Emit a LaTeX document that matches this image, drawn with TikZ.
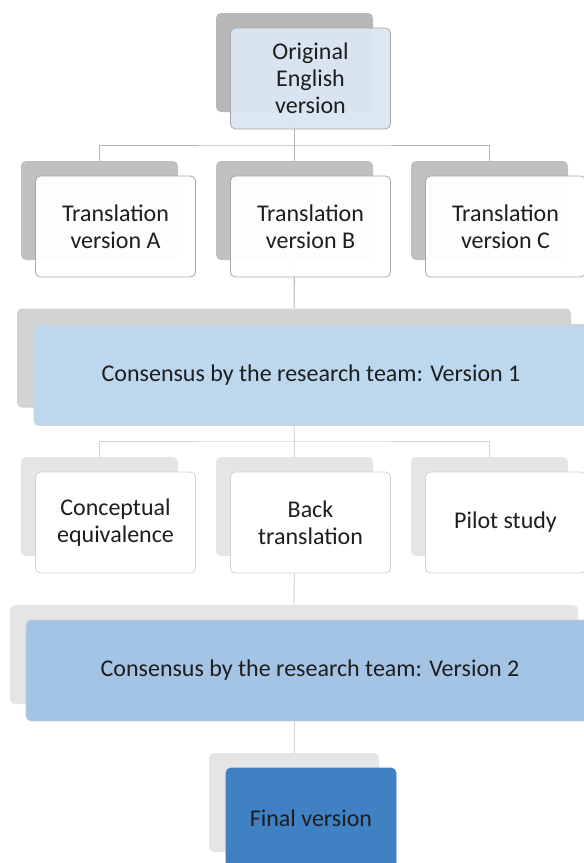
\documentclass[tikz,border=0pt]{standalone}
\usepackage{fontspec}
\setmainfont{Carlito}
\usetikzlibrary{backgrounds}

\definecolor{shdTop}{HTML}{B7B7B7}
\definecolor{shdTr}{HTML}{C0C0C0}
\definecolor{shdConA}{HTML}{D3D3D3}
\definecolor{shdLight}{HTML}{E5E5E5}
\definecolor{fillTop}{HTML}{DAE6F3}
\definecolor{fillConA}{HTML}{BDD7EE}
\definecolor{fillConB}{HTML}{A3C4E4}
\definecolor{fillFinal}{HTML}{3F81C3}
\definecolor{edgeDark}{HTML}{A6A6A6}
\definecolor{edgeLight}{HTML}{D2D2D2}
\definecolor{lnDark}{HTML}{B4B4B4}
\definecolor{lnLight}{HTML}{D4D4D4}
\definecolor{txt}{HTML}{1E1E1E}

\tikzset{
  backbox/.style={rectangle, rounded corners=5pt, inner sep=0pt,
    minimum width=157pt, minimum height=99pt},
  frontbox/.style={rectangle, rounded corners=5pt, inner sep=2pt,
    minimum width=160pt, minimum height=101pt, align=center, text=txt,
    font=\fontsize{24}{27}\selectfont, line width=0.8pt},
  link/.style={draw=lnDark, line width=1pt},
}

\begin{document}
\begin{tikzpicture}[x=1pt,y=1pt,yscale=-1,xscale=1]
\useasboundingbox (0,0) rectangle (584,863);

% Shadow boxes
\node[backbox, fill=shdTop] (origB) at (294.5,62.5) {};
\node[backbox, fill=shdTr] (trAB) at (99.5,210.5) {};
\node[backbox, fill=shdTr] (trBB) at (294.5,210.5) {};
\node[backbox, fill=shdTr] (trCB) at (489.5,210.5) {};
\node[backbox, fill=shdConA, minimum width=554pt] (conAB) at (294,358) {};
\node[backbox, fill=shdLight] (ceqB) at (99.5,506.5) {};
\node[backbox, fill=shdLight] (backB) at (294.5,506.5) {};
\node[backbox, fill=shdLight] (pilotB) at (489.5,506.5) {};
\node[backbox, fill=shdLight, minimum width=568pt] (conBB) at (294,654.5) {};
\node[backbox, fill=shdLight, minimum width=170pt] (finB) at (294,802.5) {};

% Front boxes
\node[frontbox, fill=fillTop, fill opacity=0.96, text opacity=1, draw=edgeDark] (orig)
  at ([shift={(16,16)}]origB.center) {Original\\English\\version};
\node[frontbox, fill=white, fill opacity=0.97, text opacity=1, draw=edgeDark] (trA)
  at ([shift={(16,16)}]trAB.center) {Translation\\version A};
\node[frontbox, fill=white, fill opacity=0.97, text opacity=1, draw=edgeDark] (trB)
  at ([shift={(16,16)}]trBB.center) {Translation\\version B};
\node[frontbox, fill=white, fill opacity=0.97, text opacity=1, draw=edgeDark] (trC)
  at ([shift={(16,16)}]trCB.center) {Translation\\version C};
\node[frontbox, fill=fillConA, draw=edgeLight, minimum width=554pt] (conA)
  at ([shift={(17,17)}]conAB.center) {Consensus by the research team: Version 1};
\node[frontbox, fill=white, draw=edgeLight] (ceq)
  at ([shift={(16,16)}]ceqB.center) {Conceptual\\equivalence};
\node[frontbox, fill=white, draw=edgeLight] (back)
  at ([shift={(16,16)}]backB.center) {Back\\translation};
\node[frontbox, fill=white, draw=edgeLight] (pilot)
  at ([shift={(16,16)}]pilotB.center) {Pilot study};
\node[frontbox, fill=fillConB, draw=edgeLight, minimum width=568pt] (conB)
  at ([shift={(16,16)}]conBB.center) {Consensus by the research team: Version 2};
\node[frontbox, fill=fillFinal, draw=fillFinal, minimum width=170pt] (fin)
  at ([shift={(17,16)}]finB.center) {Final version};

% Connectors
\begin{scope}[on background layer]
\coordinate (busA) at (294.5,145);
\coordinate (busB) at (294.5,441);
\draw[link] (origB.south) -- (trBB.north);
\draw[link] (trAB.north) |- (busA) -| (trCB.north);
\draw[link] (trBB.south) -- (conAB.north);
\draw[link, draw=lnLight] (conAB.south) -- (backB.north);
\draw[link, draw=lnLight] (ceqB.north) |- (busB) -| (pilotB.north);
\draw[link, draw=lnLight] (backB.south) -- (conBB.north);
\draw[link, draw=lnLight] (conBB.south) -- (finB.north);
\end{scope}
\end{tikzpicture}
\end{document}
